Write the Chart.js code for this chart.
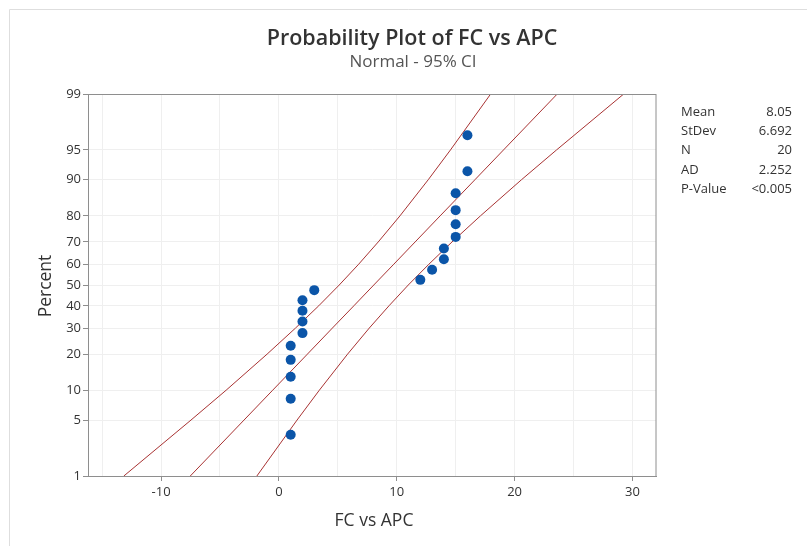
<!DOCTYPE html>
<html>
<head>
<meta charset="utf-8">
<script src="https://cdn.jsdelivr.net/npm/chart.js@4.4.1/dist/chart.umd.min.js"></script>
<style>
  html, body { margin: 0; padding: 0; background: #fff; }
  #wrap { position: relative; width: 807px; height: 546px; }
</style>
</head>
<body>
<div id="wrap"><canvas id="chart" width="807" height="546"></canvas></div>
<script>
// FC vs APC sample values (sorted) and their plotted percents
const fcValues = [1, 1, 1, 1, 1, 2, 2, 2, 2, 3, 12, 13, 14, 14, 15, 15, 15, 15, 16, 16];
const fcPercent = [3.4, 8.3, 13.2, 18.1, 23.0, 27.9, 32.8, 37.7, 42.6, 47.5,
                   52.5, 57.4, 62.3, 67.2, 72.1, 77.0, 81.9, 86.8, 91.7, 96.6];

// fitted line and 95% CI bands, read at these percent levels
const bandPercent = [1, 5, 10, 20, 30, 40, 50, 60, 70, 80, 90, 95, 99];
const fitLine   = [-7.52, -2.96, -0.53, 2.42, 4.54, 6.36, 8.05, 9.75, 11.56, 13.68, 16.63, 19.06, 23.62];
const lowerBand = [-13.16, -7.46, -4.48, -1.00, 1.41, 3.38, 5.12, 6.77, 8.43, 10.27, 12.67, 14.56, 17.97];
const upperBand = [-1.87, 1.54, 3.43, 5.83, 7.67, 9.34, 10.98, 12.73, 14.69, 17.10, 20.58, 23.56, 29.26];

// axis ticks
const percentTicks = [1, 5, 10, 20, 30, 40, 50, 60, 70, 80, 90, 95, 99];
const xGridTicks = [-15, -10, -5, 0, 5, 10, 15, 20, 25, 30];

// stats box
const statLabels = ['Mean', 'StDev', 'N', 'AD', 'P-Value'];
const statValues = ['8.05', '6.692', '20', '2.252', '<0.005'];

// inverse normal cdf (Acklam)
function probit(p) {
  const a = [-3.969683028665376e+01, 2.209460984245205e+02, -2.759285104469687e+02, 1.383577518672690e+02, -3.066479806614716e+01, 2.506628277459239e+00];
  const b = [-5.447609879822406e+01, 1.615858368580409e+02, -1.556989798598866e+02, 6.680131188771972e+01, -1.328068155288572e+01];
  const c = [-7.784894002430293e-03, -3.223964580411365e-01, -2.400758277161838e+00, -2.549732539343734e+00, 4.374664141464968e+00, 2.938163982698783e+00];
  const d = [7.784695709041462e-03, 3.224671290700398e-01, 2.445134137142996e+00, 3.754408661907416e+00];
  const pl = 0.02425;
  let q, r;
  if (p < pl) {
    q = Math.sqrt(-2 * Math.log(p));
    return (((((c[0]*q+c[1])*q+c[2])*q+c[3])*q+c[4])*q+c[5]) / ((((d[0]*q+d[1])*q+d[2])*q+d[3])*q+1);
  }
  if (p <= 1 - pl) {
    q = p - 0.5; r = q * q;
    return (((((a[0]*r+a[1])*r+a[2])*r+a[3])*r+a[4])*r+a[5])*q / (((((b[0]*r+b[1])*r+b[2])*r+b[3])*r+b[4])*r+1);
  }
  q = Math.sqrt(-2 * Math.log(1 - p));
  return -(((((c[0]*q+c[1])*q+c[2])*q+c[3])*q+c[4])*q+c[5]) / ((((d[0]*q+d[1])*q+d[2])*q+d[3])*q+1);
}

function normCdf(z) {
  const t = 1 / (1 + 0.3275911 * Math.abs(z) / Math.SQRT2);
  const y = 1 - (((((1.061405429*t - 1.453152027)*t) + 1.421413741)*t - 0.284496736)*t + 0.254829592)*t * Math.exp(-z*z/2);
  return z >= 0 ? 0.5 * (1 + y) : 0.5 * (1 - y);
}

// normal probability scale, values in percent
class ProbitScale extends Chart.LinearScale {
  buildTicks() {
    return percentTicks.map(v => ({ value: v }));
  }
  getPixelForValue(value) {
    const z0 = probit(this.min / 100), z1 = probit(this.max / 100);
    return this.getPixelForDecimal((probit(value / 100) - z0) / (z1 - z0));
  }
  getValueForPixel(pixel) {
    const z0 = probit(this.min / 100), z1 = probit(this.max / 100);
    return 100 * normCdf(z0 + this.getDecimalForPixel(pixel) * (z1 - z0));
  }
}
ProbitScale.id = 'probit';
ProbitScale.defaults = {};
Chart.register(ProbitScale);

const FONT = '"Open Sans", "Noto Sans", sans-serif';
const lineRed = '#a83232';

const textPlugin = {
  id: 'texts',
  afterDraw(chart) {
    const ctx = chart.ctx;
    const area = chart.chartArea;
    ctx.save();
    // plot frame
    ctx.strokeStyle = '#8e8e8e';
    ctx.lineWidth = 1;
    ctx.strokeRect(area.left + 0.5, area.top + 0.5, area.right - area.left - 0.5, area.bottom - area.top);
    // outer frame
    ctx.strokeStyle = '#dedede';
    ctx.beginPath();
    ctx.moveTo(9.5, 546);
    ctx.lineTo(9.5, 9.5);
    ctx.lineTo(807, 9.5);
    ctx.stroke();

    ctx.fillStyle = '#333';
    ctx.textAlign = 'center';
    ctx.textBaseline = 'middle';
    ctx.font = '600 21.5px ' + FONT;
    ctx.fillText('Probability Plot of FC vs APC', 412, 39);
    ctx.fillStyle = '#555';
    ctx.font = '17px ' + FONT;
    ctx.fillText('Normal - 95% CI', 413, 62);

    ctx.fillStyle = '#333';
    ctx.font = '17.5px ' + FONT;
    ctx.fillText('FC vs APC', 374, 521);
    ctx.save();
    ctx.translate(46, 286);
    ctx.rotate(-Math.PI / 2);
    ctx.fillText('Percent', 0, 0);
    ctx.restore();

    ctx.font = '13px ' + FONT;
    for (let i = 0; i < statLabels.length; i++) {
      const y = 112 + i * 19.3;
      ctx.textAlign = 'left';
      ctx.fillText(statLabels[i], 681, y);
      ctx.textAlign = 'right';
      ctx.fillText(statValues[i], 792, y);
    }
    ctx.restore();
  }
};

function pts(xs, ys) {
  return xs.map((x, i) => ({ x: x, y: ys[i] }));
}

function bandSet(xs) {
  return {
    data: pts(xs, bandPercent),
    showLine: true,
    borderColor: lineRed,
    borderWidth: 1,
    pointRadius: 0,
    fill: false
  };
}

new Chart(document.getElementById('chart'), {
  type: 'scatter',
  data: {
    datasets: [
      {
        data: pts(fcValues, fcPercent),
        pointRadius: 5,
        pointBackgroundColor: '#0b55a8',
        pointBorderWidth: 0,
        showLine: false
      },
      bandSet(fitLine),
      bandSet(lowerBand),
      bandSet(upperBand)
    ]
  },
  options: {
    responsive: false,
    animation: false,
    events: [],
    layout: { padding: { left: 0, top: 94, right: 151, bottom: 0 } },
    plugins: { legend: { display: false }, tooltip: { enabled: false } },
    scales: {
      x: {
        type: 'linear',
        min: -16.2,
        max: 32,
        afterBuildTicks: s => { s.ticks = xGridTicks.map(v => ({ value: v })); },
        afterFit: s => { s.height = 70; },
        border: { color: '#8e8e8e', width: 1 },
        grid: {
          color: '#efefef',
          tickLength: 5,
          tickColor: c => (c.tick && c.tick.value % 10 === 0 ? '#8e8e8e' : 'rgba(0,0,0,0)')
        },
        ticks: {
          padding: 3,
          color: '#333',
          font: { family: FONT, size: 13 },
          maxRotation: 0,
          autoSkip: false,
          callback: v => (v % 10 === 0 ? String(v) : '')
        }
      },
      y: {
        type: 'probit',
        position: 'left',
        min: 1,
        max: 99,
        afterFit: s => { s.width = 88; },
        border: { color: '#8e8e8e', width: 1 },
        grid: { color: '#efefef', tickLength: 5, tickColor: '#8e8e8e' },
        ticks: {
          padding: 2,
          color: '#333',
          font: { family: FONT, size: 13 },
          autoSkip: false,
          callback: v => String(v)
        }
      }
    }
  },
  plugins: [textPlugin]
});
</script>
</body>
</html>
